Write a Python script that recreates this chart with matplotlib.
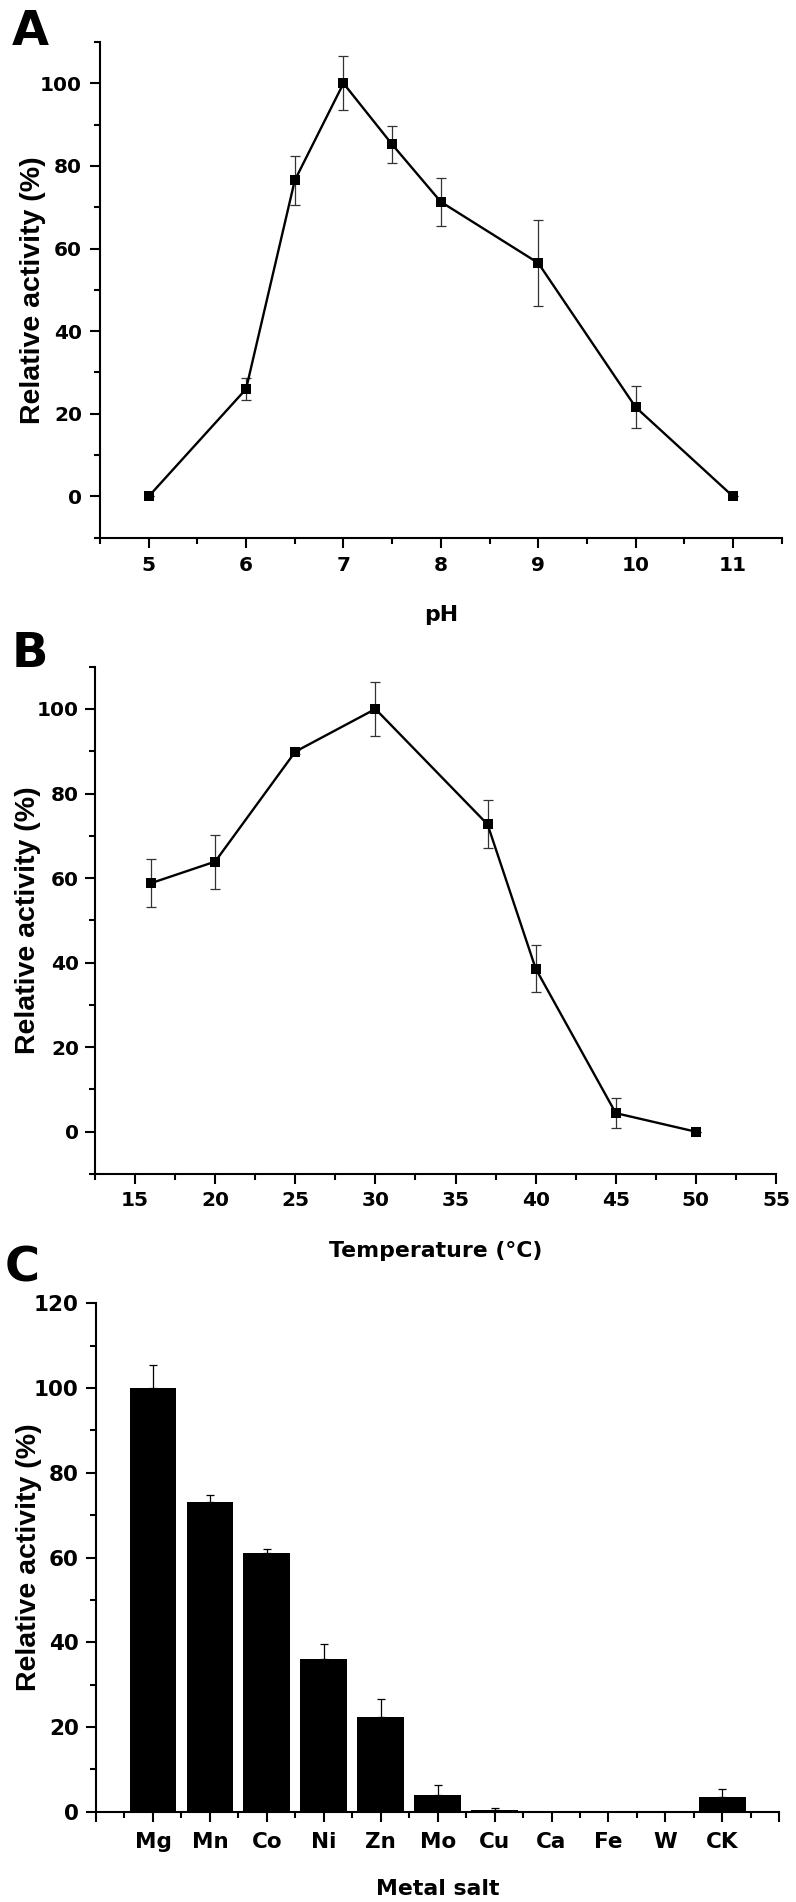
import matplotlib
matplotlib.use('Agg')
import matplotlib.pyplot as plt
from matplotlib.ticker import MultipleLocator, FixedLocator

# ---------------- data ----------------
# Panel A: pH profile
ph = [5, 6, 6.5, 7, 7.5, 8, 9, 10, 11]
ph_activity = [0, 26.0, 76.5, 100, 85.2, 71.3, 56.5, 21.6, 0]
ph_err = [0, 2.7, 5.9, 6.5, 4.5, 5.8, 10.5, 5.1, 0]

# Panel B: temperature profile
temp = [16, 20, 25, 30, 37, 40, 45, 50]
temp_activity = [58.8, 63.9, 89.9, 100, 72.7, 38.6, 4.4, 0]
temp_err = [5.6, 6.4, 0.5, 6.3, 5.7, 5.6, 3.5, 0]

# Panel C: metal salts
metals = ['Mg', 'Mn', 'Co', 'Ni', 'Zn', 'Mo', 'Cu', 'Ca', 'Fe', 'W', 'CK']
metal_activity = [100, 73.0, 61.0, 36.0, 22.4, 3.9, 0.3, 0, 0, 0, 3.4]
metal_err = [5.5, 1.8, 0.9, 3.5, 4.3, 2.4, 0.6, 0, 0, 0, 1.9]

ylabel_text = 'Relative activity (%)'

# ---------------- figure ----------------
W, H, DPI = 796, 1902, 100
plt.rcParams['font.family'] = ['DejaVu Sans']
plt.rcParams['font.weight'] = 'bold'
fig = plt.figure(figsize=(W / DPI, H / DPI), dpi=DPI)


def make_axes(left, top, right, bottom):
    return fig.add_axes([left / W, 1 - bottom / H, (right - left) / W, (bottom - top) / H])


def style(ax, w_px, h_px, xlabel, tick_size=14.5, xpad=5, ypad=5):
    for s in ['top', 'right']:
        ax.spines[s].set_visible(False)
    for s in ['left', 'bottom']:
        ax.spines[s].set_linewidth(1.5)
    ax.tick_params(which='major', direction='out', length=7.5, width=1.5,
                   labelsize=tick_size)
    ax.tick_params(axis='x', which='major', pad=xpad)
    ax.tick_params(axis='y', which='major', pad=ypad)
    ax.tick_params(which='minor', direction='out', length=4, width=1.5)
    for lab in ax.get_xticklabels() + ax.get_yticklabels():
        lab.set_fontweight('bold')
    ax.set_xlabel(xlabel, fontsize=15.8, fontweight='bold')
    ax.xaxis.set_label_coords(0.5, -83 / h_px)
    ax.xaxis.label.set_va('baseline')
    ax.set_ylabel(ylabel_text, fontsize=20.5, fontweight='bold',
                  family=['Liberation Sans', 'DejaVu Sans'])
    ax.yaxis.set_label_coords(-60 / w_px, 0.5)
    ax.yaxis.label.set_va('baseline')


# ---------- Panel A ----------
axA = make_axes(100, 42, 781.7, 537.7)
axA.errorbar(ph, ph_activity, yerr=ph_err, fmt='none', ecolor='#333333',
             elinewidth=0.9, capsize=3.6, capthick=0.9, zorder=2)
axA.plot(ph, ph_activity, color='black', lw=1.7, marker='s', ms=7.2,
         mec='black', mew=0, zorder=3)
axA.set_xlim(4.5, 11.5)
axA.set_ylim(-10, 110)
axA.xaxis.set_major_locator(MultipleLocator(1))
axA.xaxis.set_minor_locator(FixedLocator([4.5 + k for k in range(8)]))
axA.yaxis.set_major_locator(FixedLocator([0, 20, 40, 60, 80, 100]))
axA.yaxis.set_minor_locator(MultipleLocator(10))
style(axA, 681.7, 495.7, 'pH', xpad=5.5, ypad=5.5)

# ---------- Panel B ----------
axB = make_axes(95, 666.7, 776, 1174)
axB.errorbar(temp, temp_activity, yerr=temp_err, fmt='none', ecolor='#333333',
             elinewidth=0.9, capsize=3.6, capthick=0.9, zorder=2)
axB.plot(temp, temp_activity, color='black', lw=1.7, marker='s', ms=7.2,
         mec='black', mew=0, zorder=3)
axB.set_xlim(12.5, 55)
axB.set_ylim(-10, 110)
axB.xaxis.set_major_locator(MultipleLocator(5))
axB.xaxis.set_minor_locator(FixedLocator([12.5 + 5 * k for k in range(9)]))
axB.yaxis.set_major_locator(FixedLocator([0, 20, 40, 60, 80, 100]))
axB.yaxis.set_minor_locator(MultipleLocator(10))
style(axB, 681, 507.3, 'Temperature (°C)', xpad=4.5, ypad=4)

# ---------- Panel C ----------
axC = make_axes(96, 1303.3, 779.3, 1811.7)
pos = list(range(1, len(metals) + 1))
axC.bar(pos, metal_activity, width=0.82, color='black', zorder=2)
idx = [i for i, e in enumerate(metal_err) if e > 0]
axC.errorbar([pos[i] for i in idx], [metal_activity[i] for i in idx],
             yerr=[[0] * len(idx), [metal_err[i] for i in idx]], fmt='none',
             ecolor='black', elinewidth=0.9, capsize=2.8, capthick=0.9, zorder=3)
axC.set_xlim(0, len(metals) + 1)
axC.set_ylim(0, 120)
axC.xaxis.set_major_locator(FixedLocator(list(range(0, len(metals) + 2))))
axC.set_xticklabels([''] + metals + [''])
axC.xaxis.set_minor_locator(FixedLocator([0.5 + k for k in range(len(metals) + 1)]))
axC.yaxis.set_major_locator(MultipleLocator(20))
axC.yaxis.set_minor_locator(MultipleLocator(10))
style(axC, 683.3, 508.4, 'Metal salt', tick_size=15.5, xpad=7, ypad=5)

# ---------- panel letters ----------
for letter, x, y in [('A', 12, 45), ('B', 12, 667), ('C', 5, 1282)]:
    fig.text(x / W, 1 - y / H, letter, fontsize=34.5, fontweight='bold',
             ha='left', va='baseline')

fig.savefig('out.png', dpi=DPI)
